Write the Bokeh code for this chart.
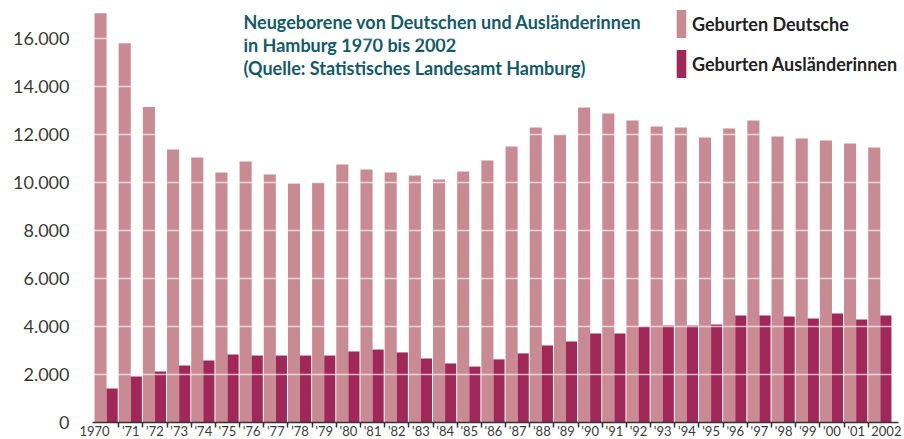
from bokeh.plotting import figure
from bokeh.models import FixedTicker, Legend, LegendItem, Label, Range1d, ColumnDataSource
from bokeh.transform import dodge
from bokeh.embed import file_html
from bokeh.resources import INLINE

years = list(range(1970, 2003))
geburten_deutsche = [17050, 15800, 13150, 11380, 11040, 10420, 10880, 10330, 9960, 10000,
                     10750, 10540, 10420, 10290, 10130, 10460, 10920, 11500, 12290, 12000,
                     13130, 12880, 12580, 12330, 12290, 11880, 12250, 12580, 11920, 11830,
                     11750, 11630, 11460]
geburten_auslaenderinnen = [1420, 1920, 2130, 2380, 2580, 2830, 2790, 2790, 2790, 2790,
                            2960, 3040, 2920, 2670, 2460, 2330, 2630, 2880, 3210, 3380,
                            3710, 3710, 4000, 4040, 4040, 4080, 4460, 4460, 4420, 4330,
                            4540, 4290, 4460]
year_labels = ["1970", "'71", "'72", "'73", "'74", "'75", "'76", "'77", "'78", "'79",
               "'80", "'81", "'82", "'83", "'84", "'85", "'86", "'87", "'88", "'89",
               "'90", "'91", "'92", "'93", "'94", "'95", "'96", "'97", "'98", "'99",
               "'00", "'01", "2002"]
y_ticks = [0, 2000, 4000, 6000, 8000, 10000, 12000, 14000, 16000]
y_tick_labels = ["0", "2.000", "4.000", "6.000", "8.000", "10.000", "12.000", "14.000", "16.000"]
title_lines = ["Neugeborene von Deutschen und Ausländerinnen",
               "in Hamburg 1970 bis 2002",
               "(Quelle: Statistisches Landesamt Hamburg)"]
series_names = ["Geburten Deutsche", "Geburten Ausländerinnen"]

C_DE = "#c88b93"
C_AU = "#a02858"
FONT = "Lato"

idx = list(range(len(years)))
src = ColumnDataSource(dict(x=idx, de=geburten_deutsche, au=geburten_auslaenderinnen))

p = figure(width=904, height=439, output_backend="svg", toolbar_location=None,
           x_range=Range1d(-1.162, 33.0), y_range=Range1d(-708, 17583),
           min_border_left=78, min_border_right=0, min_border_top=0, min_border_bottom=0)
p.outline_line_color = None
p.background_fill_color = "white"

r_de = p.vbar(x=dodge("x", -0.25, range=p.x_range), top="de", width=0.5, bottom=0,
              source=src, fill_color=C_DE, line_color=None)
r_au = p.vbar(x=dodge("x", 0.23, range=p.x_range), top="au", width=0.46, bottom=0,
              source=src, fill_color=C_AU, line_color=None)

# grid drawn over the bars
p.xgrid.visible = False
p.ygrid.ticker = FixedTicker(ticks=y_ticks[1:])
p.ygrid.grid_line_color = "white"
p.ygrid.grid_line_alpha = 0.65
p.ygrid.grid_line_width = 1.5
p.ygrid.level = "overlay"

# y axis
p.yaxis.ticker = FixedTicker(ticks=y_ticks)
p.yaxis.major_label_overrides = {t: l for t, l in zip(y_ticks, y_tick_labels)}
p.yaxis.axis_line_color = None
p.yaxis.major_tick_line_color = None
p.yaxis.minor_tick_line_color = None
p.yaxis.major_tick_out = 0
p.yaxis.major_tick_in = 0
p.yaxis.major_label_standoff = 9
p.yaxis.major_label_text_font = FONT
p.yaxis.major_label_text_font_size = "18px"
p.yaxis.major_label_text_color = "#3a3a3a"

# x axis, drawn at value 0
label_pos = [-0.5] + idx[1:-1] + [32.25]
boundaries = [i + 0.5 for i in idx[:-1]]
p.xaxis.fixed_location = 0
p.xaxis.bounds = (-0.583, 32.75)
p.xaxis.ticker = FixedTicker(ticks=label_pos, minor_ticks=boundaries)
p.xaxis.major_label_overrides = {t: l for t, l in zip(label_pos, year_labels)}
p.xaxis.axis_line_color = "#333333"
p.xaxis.axis_line_width = 1.5
p.xaxis.major_tick_line_color = None
p.xaxis.major_tick_out = 0
p.xaxis.major_tick_in = 0
p.xaxis.minor_tick_line_color = "#333333"
p.xaxis.minor_tick_line_width = 1.5
p.xaxis.minor_tick_out = 5
p.xaxis.minor_tick_in = 0
p.xaxis.major_label_standoff = -5
p.xaxis.major_label_text_font = FONT
p.xaxis.major_label_text_font_size = "13px"
p.xaxis.major_label_text_color = "#3a3a3a"

# title
title_y = [16670, 15740, 14790]
for line, ty in zip(title_lines, title_y):
    p.add_layout(Label(x=5.66, y=ty, text=line, text_font=FONT, text_font_size="18px",
                       text_font_style="bold", text_color="#135a69",
                       text_baseline="alphabetic", text_align="left"))

# legend
legend = Legend(items=[LegendItem(label=series_names[0], renderers=[r_de]),
                       LegendItem(label=series_names[1], renderers=[r_au])],
                location=(597, 358), orientation="vertical",
                glyph_width=12, glyph_height=35, spacing=5, padding=0, margin=0,
                label_standoff=5, label_text_font=FONT, label_text_font_size="18px",
                label_text_font_style="bold", label_text_color="#222222",
                border_line_alpha=0, background_fill_alpha=0)
p.add_layout(legend, "center")

open("out.html", "w").write(file_html(p, INLINE))
